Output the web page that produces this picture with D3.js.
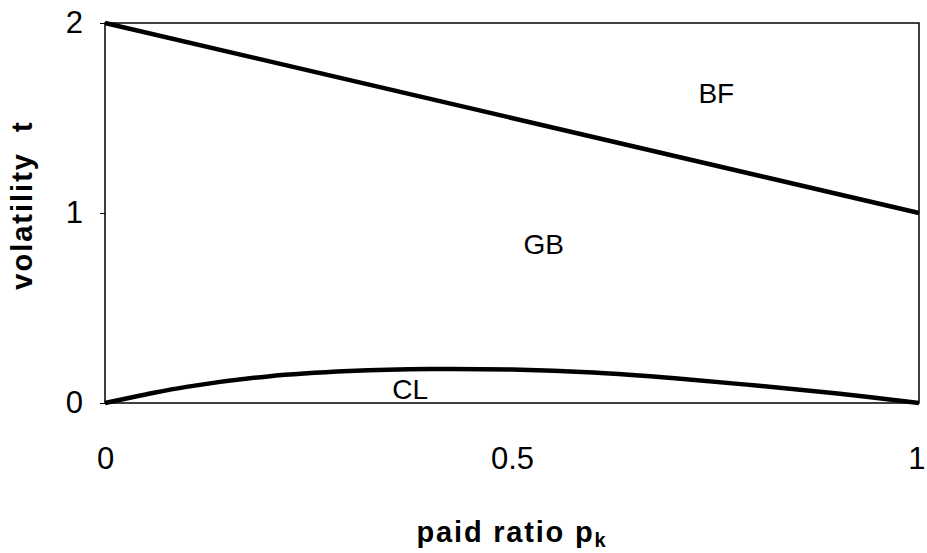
<!DOCTYPE html>
<html>
<head>
<meta charset="utf-8">
<script src="https://cdn.jsdelivr.net/npm/d3@7"></script>
<style>
  body { margin: 0; background: #fff; }
  text { font-family: Arial, "Liberation Sans", sans-serif; }
</style>
</head>
<body>
<script>
// boundary between GB and BF regions
let bfX = [0, 1]
let bfY = [2, 1.0]

// boundary between CL and GB regions
let clX = [0, 0.05, 0.1, 0.2, 0.3, 0.4, 0.5, 0.6, 0.7, 0.8, 0.9, 1]
let clY = [0, 0.045, 0.085, 0.14, 0.168, 0.179, 0.176, 0.16, 0.13, 0.092, 0.05, 0]

let xTicks = [0, 0.5, 1]
let yTicks = [0, 1, 2]

let regionNames = ["BF", "GB", "CL"]
let regionX = [0.729, 0.514, 0.353]
let regionY = [1.58, 0.785, 0.02]

let width = 927, height = 553
let m = { left: 105, right: 8, top: 23, bottom: 150 }

let svg = d3.select("body")
    .append("svg")
    .attr("width", width)
    .attr("height", height)

let x = d3.scaleLinear()
    .domain([0, 1])
    .range([m.left, width - m.right])

let y = d3.scaleLinear()
    .domain([0, 2])
    .range([height - m.bottom, m.top])

// frame
svg.append("rect")
    .attr("x", x(0))
    .attr("y", y(2))
    .attr("width", x(1) - x(0))
    .attr("height", y(0) - y(2))
    .attr("fill", "none")
    .attr("stroke", "#000")
    .attr("stroke-width", 1.5)

let yAxis = d3.axisLeft(y)
    .tickValues(yTicks)
    .tickFormat(d3.format("d"))
    .tickSize(5)
    .tickPadding(17)

let gy = svg.append("g")
    .attr("transform", `translate(${x(0)},0)`)
    .call(yAxis)
gy.select(".domain").remove()
gy.selectAll("text").attr("font-size", 31).attr("font-family", "Arial, sans-serif").attr("fill", "#000")

let xAxis = d3.axisBottom(x)
    .tickValues(xTicks)
    .tickFormat(d => d)
    .tickSize(0)
    .tickPadding(44)

let gx = svg.append("g")
    .attr("transform", `translate(0,${y(0)})`)
    .call(xAxis)
gx.select(".domain").remove()
gx.selectAll("text").attr("font-size", 31).attr("font-family", "Arial, sans-serif").attr("fill", "#000")
// last label sits against the right edge, as in the original
gx.selectAll(".tick:last-of-type text").attr("text-anchor", "end").attr("dx", 6)

let line = d3.line()
    .x(d => x(d[0]))
    .y(d => y(d[1]))
    .curve(d3.curveCatmullRom)

svg.append("path")
    .datum(d3.zip(bfX, bfY))
    .attr("d", line)
    .attr("fill", "none")
    .attr("stroke", "#000")
    .attr("stroke-width", 4.5)

svg.append("path")
    .datum(d3.zip(clX, clY))
    .attr("d", line)
    .attr("fill", "none")
    .attr("stroke", "#000")
    .attr("stroke-width", 4.5)

svg.selectAll(".region")
    .data(regionNames)
    .enter()
    .append("text")
    .attr("class", "region")
    .attr("x", (d, i) => x(regionX[i]))
    .attr("y", (d, i) => y(regionY[i]))
    .attr("font-size", 28)
    .text(d => d)

// axis titles
let xt = svg.append("text")
    .attr("x", (x(0) + x(1)) / 2)
    .attr("y", 542)
    .attr("text-anchor", "middle")
    .attr("font-size", 29)
    .attr("font-weight", "bold")
    .attr("letter-spacing", 1.8)
xt.append("tspan").text("paid ratio p")
xt.append("tspan").attr("font-size", 20).attr("dy", 5).text("k")

svg.append("text")
    .attr("transform", `translate(32,205) rotate(-90)`)
    .attr("text-anchor", "middle")
    .attr("font-size", 29)
    .attr("font-weight", "bold")
    .attr("letter-spacing", 2)
    .text("volatility\u00a0\u00a0t")
</script>
</body>
</html>
